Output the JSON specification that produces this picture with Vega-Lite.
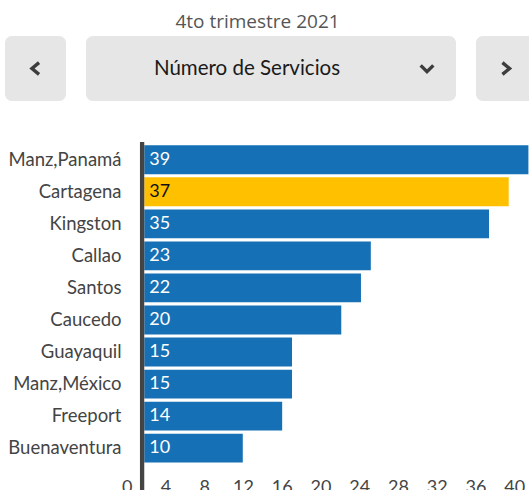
{
  "$schema": "https://vega.github.io/schema/vega-lite/v6.json",
  "padding": {"left": 5, "top": 13, "right": 0, "bottom": 0},
  "title": {"text": "4to trimestre 2021", "fontSize": 19, "font": "Open Sans", "fontWeight": "normal", "color": "#555555", "anchor": "middle", "offset": 4, "dx": -13},
  "config": {"view": {"stroke": null}, "font": "Lato"},
  "spacing": 38,
  "vconcat": [
    {
      "spacing": 20,
      "hconcat": [
        {
          "width": 61, "height": 65,
          "view": {"fill": "#e6e6e6", "cornerRadius": 7, "stroke": null},
          "data": {"values": [{"boton": "anterior"}]},
          "mark": {"type": "point", "shape": "M0.6,-1L-0.6,0L0.6,1", "size": 140, "filled": false, "stroke": "#3d3d3d", "strokeWidth": 3.4, "opacity": 1, "strokeJoin": "miter"},
          "encoding": {}
        },
        {
          "width": 370, "height": 65,
          "view": {"fill": "#e6e6e6", "cornerRadius": 7, "stroke": null},
          "data": {"values": [{"boton": "Número de Servicios"}]},
          "layer": [
            {
              "mark": {"type": "text", "fontSize": 20.5, "font": "Lato", "color": "#1a1a1a", "dx": -24, "baseline": "middle", "align": "center"},
              "encoding": {"text": {"field": "boton"}}
            },
            {
              "mark": {"type": "point", "shape": "M-1,-0.5L0,0.5L1,-0.5", "size": 160, "filled": false, "stroke": "#3d3d3d", "strokeWidth": 3.4, "opacity": 1, "strokeJoin": "miter", "xOffset": 156},
              "encoding": {}
            }
          ]
        },
        {
          "width": 60, "height": 65,
          "view": {"fill": "#e6e6e6", "cornerRadius": 7, "stroke": null},
          "data": {"values": [{"boton": "siguiente"}]},
          "mark": {"type": "point", "shape": "M-0.6,-1L0.6,0L-0.6,1", "size": 140, "filled": false, "stroke": "#3d3d3d", "strokeWidth": 3.4, "opacity": 1, "strokeJoin": "miter"},
          "encoding": {}
        }
      ]
    },
    {
      "width": 524,
      "height": 358,
      "data": {
        "values": [
          {"puerto": "Manz,Panamá", "servicios": 39},
          {"puerto": "Cartagena", "servicios": 37},
          {"puerto": "Kingston", "servicios": 35},
          {"puerto": "Callao", "servicios": 23},
          {"puerto": "Santos", "servicios": 22},
          {"puerto": "Caucedo", "servicios": 20},
          {"puerto": "Guayaquil", "servicios": 15},
          {"puerto": "Manz,México", "servicios": 15},
          {"puerto": "Freeport", "servicios": 14},
          {"puerto": "Buenaventura", "servicios": 10}
        ]
      },
      "layer": [
        {
          "mark": {"type": "point", "opacity": 0},
          "encoding": {
            "x": {
              "field": "servicios", "type": "quantitative",
              "scale": {"domain": [-12.56, 41.52], "nice": false, "zero": false},
              "axis": {"orient": "bottom", "values": [0, 4, 8, 12, 16, 20, 24, 28, 32, 36, 40], "title": null, "domain": false, "ticks": false, "grid": false, "labelFontSize": 18, "labelColor": "#444444", "labelPadding": -22, "labelFlush": false, "labelOverlap": false, "labelFont": "Lato"}
            },
            "y": {
              "field": "puerto", "type": "nominal", "sort": null,
              "scale": {"paddingInner": 0.1, "paddingOuter": 0.635, "align": 0.081},
              "axis": {"title": null, "domain": false, "ticks": false, "labelFontSize": 18.5, "labelColor": "#444444", "labelPadding": -116, "labelFont": "Lato"}
            }
          }
        },
        {
          "layer": [
            {
              "mark": {"type": "bar"},
              "encoding": {
                "x": {"field": "servicios", "type": "quantitative", "scale": {"domain": [-14.14, 39.06], "nice": false, "zero": false}, "axis": null},
                "y": {"field": "puerto", "type": "nominal", "sort": null},
                "color": {"condition": {"test": "datum.puerto === 'Cartagena'", "value": "#FFC000"}, "value": "#1570B5"}
              }
            },
            {
              "data": {"values": [{"eje": 0}]},
              "mark": {"type": "rule", "color": "#444444", "strokeWidth": 4.3},
              "encoding": {"x": {"datum": -0.22, "type": "quantitative"}}
            },
            {
              "mark": {"type": "text", "align": "left", "baseline": "middle", "dx": 5, "fontSize": 18, "font": "Lato"},
              "encoding": {
                "x": {"datum": 0, "type": "quantitative"},
                "y": {"field": "puerto", "type": "nominal", "sort": null},
                "text": {"field": "servicios", "type": "quantitative"},
                "color": {"condition": {"test": "datum.puerto === 'Cartagena'", "value": "#111111"}, "value": "#ffffff"}
              }
            }
          ]
        }
      ],
      "resolve": {"scale": {"x": "independent"}}
    }
  ]
}
